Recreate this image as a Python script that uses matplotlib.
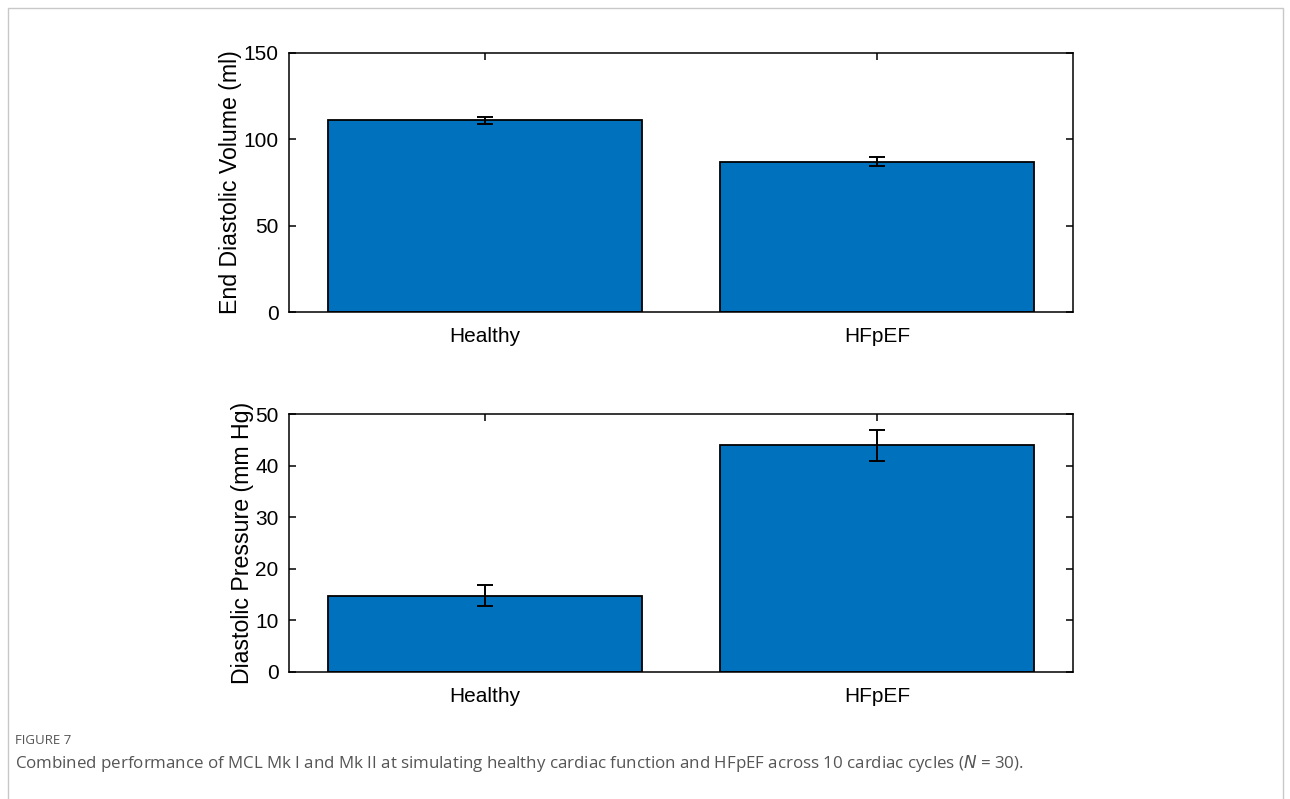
import matplotlib.pyplot as plt
from matplotlib.patches import Rectangle

# 数据
groups = ['Healthy', 'HFpEF']
edv_mean = [111, 87]
edv_err = [2, 2.5]
pres_mean = [14.8, 44]
pres_err = [2, 3]

plt.rcParams['font.family'] = ['Liberation Sans', 'DejaVu Sans']
bar_color = '#0072BD'

fig = plt.figure(figsize=(12.9, 7.99), dpi=100)

# 外框
fig.patches.append(Rectangle((8 / 1290, -0.05), 1275 / 1290, 791 / 799 + 0.05,
                             transform=fig.transFigure, fill=False,
                             edgecolor='#c8c8c8', linewidth=1.0))


def draw_panel(ax, means, errs, ylim, yticks, ylabel):
    x = [1, 2]
    ax.bar(x, means, width=0.8, color=bar_color, edgecolor='black', linewidth=1.3, zorder=2)
    ax.errorbar(x, means, yerr=errs, fmt='none', ecolor='black', elinewidth=1.4,
                capsize=6, capthick=1.4, zorder=3)
    ax.set_xlim(0.5, 2.5)
    ax.set_ylim(*ylim)
    ax.set_xticks(x)
    ax.set_xticklabels(groups)
    ax.set_yticks(yticks)
    ax.set_ylabel(ylabel, fontsize=16.7, labelpad=1)
    ax.tick_params(direction='in', top=True, right=True, length=5, width=1.1,
                   labelsize=15)
    ax.tick_params(axis='x', pad=11)
    ax.tick_params(axis='y', pad=7.5)
    for s in ax.spines.values():
        s.set_linewidth(1.1)


ax1 = fig.add_axes([0.224, 0.6095, 0.6078, 0.3242])
draw_panel(ax1, edv_mean, edv_err, (0, 150), [0, 50, 100, 150], 'End Diastolic Volume (ml)')

ax2 = fig.add_axes([0.224, 0.1593, 0.6078, 0.3222])
draw_panel(ax2, pres_mean, pres_err, (0, 50), [0, 10, 20, 30, 40, 50], 'Diastolic Pressure (mm Hg)')

fig.text(15 / 1290, 1 - 741 / 799, 'FIGURE 7', fontsize=9.5, color='#555555',
         family='Open Sans', va='center', ha='left')
fig.text(15 / 1290, 1 - 763 / 799,
         'Combined performance of MCL Mk I and Mk II at simulating healthy cardiac function and HFpEF across 10 cardiac cycles ($\\it{N}$ = 30).',
         fontsize=12.2, color='#555555', family='Open Sans', va='center', ha='left')

fig.savefig('out.png', dpi=100)
